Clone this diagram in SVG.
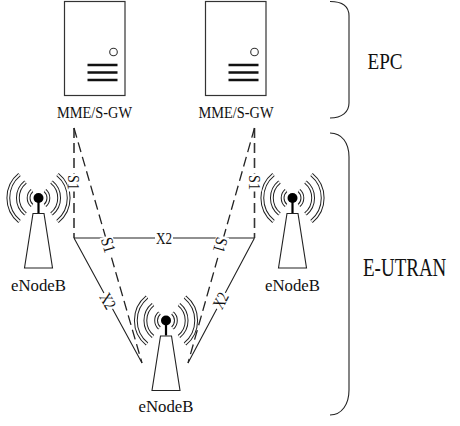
<svg xmlns="http://www.w3.org/2000/svg" xmlns:xlink="http://www.w3.org/1999/xlink" width="460" height="426" viewBox="0 0 460 426">
<style>
text{font-family:"Liberation Serif",serif;fill:#111}
.l{font-size:16px;text-anchor:middle}
.m{font-size:17px;text-anchor:middle}
.b{font-size:23px}
.e{font-size:19px}
.line{fill:none;stroke:#222;stroke-width:1.1}
.dash{fill:none;stroke:#222;stroke-width:1.3;stroke-dasharray:10 5}
.dv{fill:none;stroke:#333;stroke-width:1.6;stroke-dasharray:10 5}
.box{fill:#fff;stroke:#333;stroke-width:1.2}
.bar{stroke:#111;stroke-width:2.4}
.wave{fill:none;stroke:#222;stroke-width:3.8}
.wi{fill:none;stroke:#fff;stroke-width:1.8}
.mask{fill:#fff}
</style>
<defs>
<path id="arcs" d="M-6.500 -7.500A10 10 0 0 0 -6.500 7.500M6.500 -7.500A10 10 0 0 1 6.500 7.500M-13 -16A20.600 20.600 0 0 0 -13 16M13 -16A20.600 20.600 0 0 1 13 16M-19 -23.500A30.300 30.300 0 0 0 -19 23.500M19 -23.500A30.300 30.300 0 0 1 19 23.500"/>
<rect id="lm" class="mask" x="-9" y="-6.500" width="18" height="13"/>
<g id="server">
<rect class="box" x="0" y="0" width="60.500" height="94"/>
<circle cx="49" cy="50.500" r="3.800" fill="#fff" stroke="#333" stroke-width="1.100"/>
<path class="bar" d="M23 63.500H53M23 71H53M23 78.500H53"/>
</g>
<g id="tower">
<use xlink:href="#arcs" href="#arcs" class="wave"/>
<use xlink:href="#arcs" href="#arcs" class="wi"/>
<circle r="5" fill="#000"/>
<path d="M0 0V15" stroke="#000" stroke-width="2.200"/>
<path d="M-5.500 15.500H5.500L14 70H-14Z" fill="#fff" stroke="#222" stroke-width="1.100"/>
</g>
</defs>
<g id="connectors">
<path class="dv" d="M74 128V238"/>
<path class="dv" d="M254.500 128V238"/>
<path class="dash" d="M74 128L142 363"/>
<path class="dash" d="M254.500 128L188 363"/>
<path class="line" d="M74 238H254.500M74 238L142 363M254.500 238L188 363"/>
</g>
<g id="epc-brace"><path class="line" d="M330 1.500C342 1.500 349 6 349 16V103C349 112 342 118 330 118"/></g>
<g id="eutran-brace"><path class="line" d="M330 133C342 133 349 143 349 157V390C349 404 342 415 330 415"/></g>
<g id="mme1"><use xlink:href="#server" href="#server" x="64.500" y="1.500"/><text class="m" x="94.500" y="117.500" textLength="75" lengthAdjust="spacingAndGlyphs">MME/S-GW</text></g>
<g id="mme2"><use xlink:href="#server" href="#server" x="205.500" y="1.500"/><text class="m" x="236" y="117.500" textLength="75" lengthAdjust="spacingAndGlyphs">MME/S-GW</text></g>
<g id="enb1"><use xlink:href="#tower" href="#tower" x="38.500" y="198"/><text class="l" x="38.500" y="290.500" textLength="55" lengthAdjust="spacingAndGlyphs">eNodeB</text></g>
<g id="enb2"><use xlink:href="#tower" href="#tower" x="292.500" y="198"/><text class="l" x="292.500" y="290.500" textLength="55" lengthAdjust="spacingAndGlyphs">eNodeB</text></g>
<g id="enb3"><use xlink:href="#tower" href="#tower" x="166" y="320.500"/><text class="l" x="166" y="412" textLength="55" lengthAdjust="spacingAndGlyphs">eNodeB</text></g>
<g id="labels">
<use xlink:href="#lm" href="#lm" x="164" y="238"/>
<text class="m" x="164" y="243.500" textLength="16" lengthAdjust="spacingAndGlyphs">X2</text>
<g transform="translate(108.500 245) rotate(73.500)"><use xlink:href="#lm" href="#lm"/><text class="m" y="5.800" textLength="15" lengthAdjust="spacingAndGlyphs">S1</text></g>
<g transform="translate(220.500 245) rotate(105.500)"><use xlink:href="#lm" href="#lm"/><text class="m" y="5.800" textLength="15" lengthAdjust="spacingAndGlyphs">S1</text></g>
<g transform="translate(74 182.500) rotate(90)"><use xlink:href="#lm" href="#lm"/><text class="m" y="5.800" textLength="15" lengthAdjust="spacingAndGlyphs">S1</text></g>
<g transform="translate(255 182.500) rotate(90)"><use xlink:href="#lm" href="#lm"/><text class="m" y="5.800" textLength="15" lengthAdjust="spacingAndGlyphs">S1</text></g>
<g transform="translate(108 301) rotate(61)"><use xlink:href="#lm" href="#lm"/><text class="m" y="5.800" textLength="16" lengthAdjust="spacingAndGlyphs">X2</text></g>
<g transform="translate(220.500 300.500) rotate(-62)"><use xlink:href="#lm" href="#lm"/><text class="m" y="5.800" textLength="16" lengthAdjust="spacingAndGlyphs">X2</text></g>
<text class="b" x="367.500" y="69" textLength="35" lengthAdjust="spacingAndGlyphs">EPC</text>
<text class="e" transform="translate(363 276) scale(1 1.300)">E-UTRAN</text>
</g>
</svg>
